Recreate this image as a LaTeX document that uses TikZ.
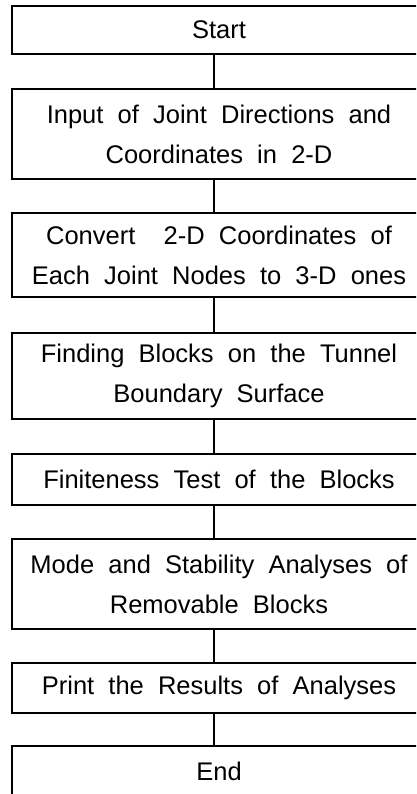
\documentclass[tikz,border=0pt]{standalone}
\usepackage{fontspec}
\setmainfont{Liberation Sans}[WordSpace=2.0]
\begin{document}
\begin{tikzpicture}[x=1pt,y=-1pt,
  flowbox/.style={draw, line width=1.4pt, rectangle, inner sep=0pt,
    minimum width=414pt, align=center,
    font=\fontsize{25.5}{40}\selectfont},
  link/.style={line width=1.2pt}]
\clip (0,0) rectangle (416,794);
\coordinate (cx) at (214,0);
\node[flowbox, minimum height=48pt] (n1) at (219,30) {Start};
\node[flowbox, minimum height=90pt] (n2) at (219,134) {Input of Joint Directions and\\Coordinates in 2-D};
\node[flowbox, minimum height=84pt] (n3) at (219,255) {Convert\ \ 2-D Coordinates of\\Each Joint Nodes to 3-D ones};
\node[flowbox, minimum height=86pt] (n4) at (219,376) {Finding Blocks on the Tunnel\\Boundary Surface};
\node[flowbox, minimum height=51pt] (n5) at (219,479.5) {Finiteness Test of the Blocks};
\node[flowbox, minimum height=90pt] (n6) at (219,584) {Mode and Stability Analyses of\\Removable Blocks};
\node[flowbox, minimum height=50pt] (n7) at (219,688) {Print the Results of Analyses};
\node[flowbox, minimum height=50pt] (n8) at (219,771) {End};
\foreach \a/\b in {n1/n2,n2/n3,n3/n4,n4/n5,n5/n6,n6/n7,n7/n8}
  \draw[link] (\a.south -| cx) -- (\b.north -| cx);
\end{tikzpicture}
\end{document}
